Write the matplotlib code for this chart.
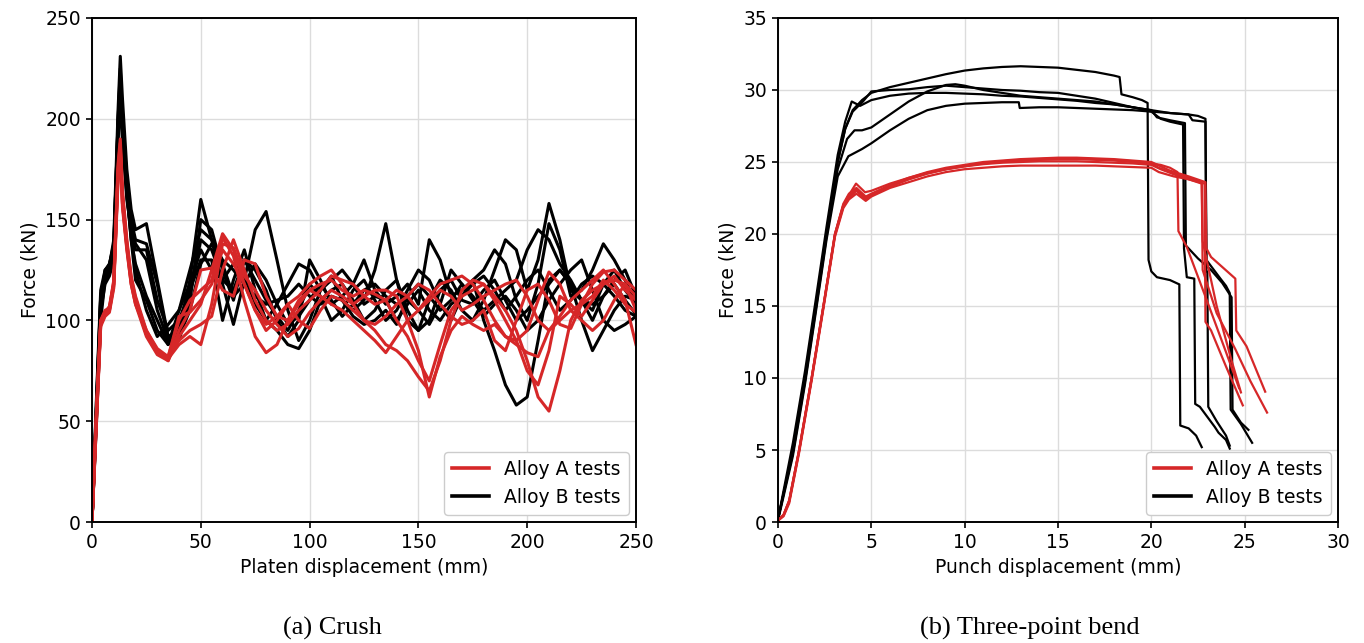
import matplotlib
matplotlib.use("Agg")
import matplotlib.pyplot as plt

# ---------------- Crush data (platen displacement mm, force kN) ----------------
crush_x = [0, 2, 4, 6, 8, 10, 12, 13, 14, 16, 18, 20, 25, 30, 35, 40, 45, 50, 55, 60,
           65, 70, 75, 80, 85, 90, 95, 100, 105, 110, 115, 120, 125, 130, 135, 140,
           145, 150, 155, 160, 165, 170, 175, 180, 185, 190, 195, 200, 205, 210, 215,
           220, 225, 230, 235, 240, 245, 250]

crush_b1 = [0, 60, 115, 125, 127, 140, 205, 231, 210, 175, 155, 145, 148, 120, 92, 95, 120, 160, 140, 118,
            98, 120, 145, 154, 130, 105, 90, 100, 115, 122, 110, 105, 110, 125, 148, 120,
            100, 95, 110, 120, 115, 105, 100, 110, 125, 140, 135, 115, 130, 158, 140,
            115, 110, 105, 118, 125, 115, 108]
crush_b2 = [0, 55, 110, 122, 126, 135, 200, 225, 200, 170, 150, 140, 138, 118, 90, 90, 110, 150, 145, 125,
            110, 130, 125, 115, 100, 92, 100, 130, 120, 108, 112, 118, 130, 115, 108, 112,
            118, 108, 140, 130, 112, 115, 120, 125, 135, 128, 110, 100, 118, 148, 135,
            112, 115, 125, 138, 130, 120, 108]
crush_b3 = [0, 58, 112, 120, 124, 132, 195, 215, 195, 165, 140, 128, 112, 100, 88, 95, 112, 140, 135, 120,
            115, 130, 120, 110, 102, 95, 105, 118, 112, 100, 105, 115, 120, 110, 100, 105,
            115, 125, 120, 108, 100, 112, 120, 100, 85, 68, 58, 62, 90, 120, 125,
            118, 110, 100, 112, 118, 110, 103]
crush_b4 = [0, 50, 105, 118, 122, 130, 190, 210, 190, 160, 145, 135, 135, 110, 95, 100, 115, 130, 130, 100,
            120, 135, 115, 100, 95, 88, 86, 95, 110, 115, 118, 110, 100, 105, 115, 120,
            105, 95, 100, 115, 120, 110, 108, 115, 120, 110, 100, 105, 112, 118, 125,
            118, 100, 85, 95, 105, 112, 110]
crush_b5 = [0, 52, 108, 125, 128, 138, 198, 220, 195, 165, 140, 120, 110, 95, 88, 105, 125, 145, 140, 130,
            125, 118, 112, 108, 110, 112, 118, 112, 108, 112, 110, 102, 98, 100, 105, 98,
            112, 118, 112, 105, 110, 118, 112, 105, 110, 115, 120, 135, 145, 140, 128,
            120, 110, 108, 112, 120, 125, 112]
crush_b6 = [0, 48, 100, 120, 125, 133, 192, 212, 190, 162, 142, 125, 105, 92, 98, 105, 118, 135, 125, 120,
            128, 122, 108, 100, 108, 118, 128, 125, 115, 120, 125, 118, 108, 112, 110, 100,
            108, 115, 105, 100, 108, 112, 118, 122, 115, 105, 112, 120, 125, 115, 105,
            110, 118, 122, 118, 112, 105, 102]
crush_b7 = [0, 55, 112, 124, 128, 136, 200, 222, 198, 168, 148, 138, 130, 105, 90, 92, 105, 128, 138, 128,
            112, 118, 128, 120, 108, 98, 102, 110, 118, 110, 102, 108, 115, 118, 112, 108,
            110, 105, 98, 108, 125, 118, 110, 102, 108, 112, 105, 95, 100, 110, 118,
            125, 130, 115, 100, 95, 98, 102]

crush_a1 = [0, 55, 100, 104, 106, 120, 178, 190, 165, 140, 122, 112, 95, 85, 80, 92, 100, 108, 125, 143,
            135, 118, 105, 95, 100, 108, 112, 118, 122, 125, 118, 108, 100, 95, 88, 85,
            80, 72, 65, 80, 100, 115, 120, 118, 110, 100, 90, 75, 68, 85, 112,
            108, 102, 110, 118, 122, 115, 110]
crush_a2 = [0, 50, 98, 103, 105, 118, 175, 186, 160, 138, 120, 110, 93, 84, 82, 100, 110, 115, 120, 141,
            132, 110, 92, 84, 88, 100, 110, 115, 118, 120, 115, 112, 115, 113, 110, 100,
            92, 80, 70, 88, 105, 112, 115, 118, 112, 105, 95, 80, 62, 55, 75,
            100, 110, 115, 118, 120, 118, 105]
crush_a3 = [0, 52, 99, 104, 107, 119, 172, 184, 158, 136, 118, 108, 92, 83, 80, 95, 105, 125, 126, 115,
            112, 130, 128, 112, 102, 100, 108, 115, 112, 108, 105, 100, 95, 90, 84, 92,
            100, 105, 112, 118, 120, 122, 118, 110, 100, 92, 90, 95, 110, 124, 118,
            105, 100, 95, 100, 110, 118, 112]
crush_a4 = [0, 48, 97, 102, 104, 116, 170, 182, 156, 135, 118, 108, 95, 86, 82, 90, 95, 98, 102, 125,
            140, 125, 110, 100, 95, 98, 105, 110, 115, 122, 120, 118, 112, 108, 110, 115,
            112, 105, 110, 115, 112, 105, 108, 112, 115, 118, 120, 112, 100, 95, 102,
            110, 115, 120, 125, 118, 110, 88]
crush_a5 = [0, 53, 100, 105, 106, 118, 176, 188, 162, 139, 121, 111, 94, 84, 81, 88, 92, 88, 108, 138,
            136, 122, 115, 105, 98, 92, 96, 104, 110, 115, 112, 108, 112, 115, 115, 112,
            100, 85, 62, 82, 95, 102, 98, 95, 98, 92, 88, 84, 82, 95, 100,
            105, 108, 112, 120, 115, 108, 104]
crush_a6 = [0, 50, 98, 103, 105, 117, 174, 185, 158, 137, 119, 109, 93, 84, 82, 102, 104, 110, 118, 135,
            128, 118, 105, 98, 102, 108, 100, 96, 105, 112, 110, 105, 100, 98, 102, 108,
            112, 118, 115, 108, 102, 98, 100, 105, 90, 85, 100, 115, 118, 110, 98,
            96, 108, 118, 124, 125, 120, 115]

crush_black = [crush_b1, crush_b2, crush_b3, crush_b4, crush_b5, crush_b6, crush_b7]
crush_red = [crush_a1, crush_a2, crush_a3, crush_a4, crush_a5, crush_a6]

# ---------------- Three-point bend data (punch displacement mm, force kN) ----------------
bend_b1_x = [0, 0.8, 1.45, 2.03, 2.6, 3.2, 3.6, 4.0, 4.5, 5, 6, 7, 8, 9, 10, 11, 12, 13, 14, 15,
             16, 17, 18, 18.3, 18.4, 19, 19.5, 19.8, 19.85, 20.0, 20.3, 21.0, 21.5, 21.55, 22.0, 22.4, 22.7]
bend_b1_y = [0.2, 5, 10, 15, 20, 25, 27.3, 28.6, 29.3, 29.8, 30.2, 30.5, 30.8, 31.1, 31.35, 31.5, 31.6, 31.65, 31.6, 31.55,
             31.4, 31.25, 31.0, 30.9, 29.7, 29.5, 29.3, 29.1, 18.2, 17.4, 17.0, 16.8, 16.5, 6.7, 6.5, 6.0, 5.2]

bend_b2_x = [0, 0.8, 1.45, 2.03, 2.6, 3.2, 3.6, 4.0, 4.55, 5, 6, 7, 8, 9, 10, 11, 12, 13, 14, 15,
             16, 17, 18, 19, 20, 21, 22, 22.2, 22.9, 22.95, 23.7, 24.0, 24.2, 24.25, 24.8, 25.4]
bend_b2_y = [0.2, 5, 10, 15, 20, 25, 27.3, 28.5, 29.2, 29.9, 30.0, 30.05, 30.2, 30.3, 30.2, 30.1, 30.0, 29.95, 29.85, 29.8,
             29.6, 29.4, 29.1, 28.8, 28.6, 28.4, 28.3, 27.9, 27.8, 18.2, 16.9, 16.4, 15.9, 7.8, 6.8, 5.5]

bend_b3_x = [0, 0.8, 1.45, 2.03, 2.6, 3.2, 3.6, 3.95, 4.4, 5, 6, 7, 8, 9, 10, 11, 12, 13, 14, 15,
             16, 17, 18, 19, 20, 20.5, 21, 21.7, 21.75, 21.9, 22.3, 22.35, 22.6, 23.0, 23.4, 23.6, 24.0, 24.2]
bend_b3_y = [0.2, 5.5, 10.5, 15.5, 20.5, 25.5, 27.8, 29.2, 28.9, 29.3, 29.6, 29.75, 29.8, 29.8, 29.75, 29.7, 29.6, 29.55, 29.45, 29.35,
             29.25, 29.1, 29.0, 28.8, 28.5, 28.0, 27.8, 27.6, 19.0, 17.0, 16.9, 8.2, 8.0, 7.3, 6.6, 6.2, 5.7, 5.1]

bend_b4_x = [0, 0.8, 1.45, 2.03, 2.6, 3.2, 3.7, 4.1, 4.5, 5, 6, 7, 8, 9, 9.5, 10, 11, 12, 13, 14, 15,
             16, 17, 18, 19, 20, 20.3, 21, 21.8, 21.85, 22.5, 23.2, 23.8, 24.3, 24.35, 24.8, 25.2]
bend_b4_y = [0.2, 4.8, 9.8, 14.8, 19.8, 24.5, 26.6, 27.2, 27.2, 27.4, 28.3, 29.2, 29.9, 30.35, 30.4, 30.3, 30.0, 29.8, 29.6, 29.5, 29.4,
             29.3, 29.2, 29.0, 28.8, 28.6, 28.1, 27.9, 27.7, 19.2, 18.3, 17.5, 16.6, 15.6, 7.8, 6.9, 6.4]

bend_b5_x = [0, 0.8, 1.45, 2.03, 2.6, 3.2, 3.77, 4.5, 5, 6, 7, 8, 9, 10, 11, 12, 12.9, 12.95, 14, 15,
             16, 17, 18, 19, 20, 21, 22, 22.5, 22.9, 22.95, 23.0, 23.05, 23.5, 24.0, 24.2]
bend_b5_y = [0.1, 4.6, 9.6, 14.6, 19.6, 24.0, 25.4, 25.9, 26.3, 27.2, 28.0, 28.6, 28.9, 29.05, 29.1, 29.15, 29.15, 28.75, 28.8, 28.8,
             28.75, 28.7, 28.65, 28.6, 28.5, 28.4, 28.3, 28.2, 28.0, 17.5, 17.3, 8.0, 7.0, 6.0, 5.3]

bend_a1_x = [0, 0.3, 0.6, 1.13, 1.8, 2.43, 3.05, 3.5, 3.75, 4.18, 4.66, 5, 6, 7, 8, 9, 10, 11, 12, 13,
             14, 15, 16, 17, 18, 19, 20, 20.5, 21, 21.4, 21.45, 21.9, 23.0, 24.0, 24.7]
bend_a1_y = [0.1, 0.5, 1.5, 5, 10, 15, 20, 22.0, 22.6, 23.5, 22.9, 23.0, 23.5, 23.9, 24.25, 24.5, 24.75, 24.9, 25.05, 25.15,
             25.2, 25.25, 25.25, 25.2, 25.15, 25.05, 24.9, 24.8, 24.6, 24.3, 20.2, 19.1, 15.3, 11.8, 9.3]

bend_a2_x = [0, 0.3, 0.6, 1.13, 1.8, 2.43, 3.05, 3.5, 3.8, 4.2, 4.7, 5, 6, 7, 8, 9, 10, 11, 12, 13,
             14, 15, 16, 17, 18, 19, 20, 20.4, 21.2, 22.0, 22.85, 22.9, 23.2, 24.0, 24.9]
bend_a2_y = [0.1, 0.4, 1.3, 4.8, 9.8, 14.8, 19.8, 21.8, 22.4, 22.8, 22.3, 22.6, 23.2, 23.6, 24.0, 24.3, 24.5, 24.6, 24.7, 24.75,
             24.75, 24.75, 24.75, 24.75, 24.7, 24.65, 24.6, 24.3, 24.0, 23.8, 23.5, 13.9, 13.3, 10.8, 8.1]

bend_a3_x = [0, 0.3, 0.6, 1.13, 1.8, 2.43, 3.05, 3.5, 3.8, 4.2, 4.7, 5, 6, 7, 8, 9, 10, 11, 12, 13,
             14, 15, 16, 17, 18, 19, 20, 20.5, 21, 22.0, 22.9, 22.95, 23.2, 24.5, 24.55, 25.1, 26.1]
bend_a3_y = [0.1, 0.5, 1.5, 5, 10, 15, 20, 22.1, 22.8, 23.2, 22.6, 22.8, 23.4, 23.9, 24.3, 24.6, 24.8, 25.0, 25.1, 25.2,
             25.25, 25.3, 25.3, 25.25, 25.2, 25.1, 25.0, 24.7, 24.4, 24.0, 23.6, 19.0, 18.4, 16.9, 13.3, 12.2, 9.05]

bend_a4_x = [0, 0.3, 0.6, 1.13, 1.8, 2.43, 3.05, 3.5, 3.8, 4.2, 4.7, 5, 6, 7, 8, 9, 10, 11, 12, 13,
             14, 15, 16, 17, 18, 19, 20, 20.4, 21.2, 22.0, 22.7, 22.75, 23.5, 24.5, 25.3, 26.2]
bend_a4_y = [0.1, 0.45, 1.4, 4.9, 9.9, 14.9, 19.9, 21.9, 22.5, 23.0, 22.4, 22.7, 23.3, 23.8, 24.2, 24.5, 24.7, 24.9, 25.0, 25.1,
             25.15, 25.2, 25.2, 25.15, 25.1, 25.0, 24.9, 24.6, 24.2, 23.9, 23.6, 17.5, 14.5, 12.0, 9.8, 7.6]

bend_a5_x = [0, 0.3, 0.6, 1.13, 1.8, 2.43, 3.05, 3.5, 3.8, 4.2, 4.7, 5, 6, 7, 8, 9, 10, 11, 12, 13,
             14, 15, 16, 17, 18, 19, 20, 20.5, 21.3, 22.0, 22.7, 22.75, 23.5, 24.3, 24.8]
bend_a5_y = [0.1, 0.5, 1.45, 4.95, 9.95, 14.95, 19.95, 22.0, 22.6, 23.1, 22.5, 22.7, 23.3, 23.8, 24.2, 24.5, 24.7, 24.85, 24.95, 25.0,
             25.05, 25.05, 25.05, 25.0, 24.95, 24.9, 24.8, 24.5, 24.1, 23.8, 23.5, 19.5, 15.0, 11.2, 9.0]

bend_black = [(bend_b1_x, bend_b1_y), (bend_b2_x, bend_b2_y), (bend_b3_x, bend_b3_y),
              (bend_b4_x, bend_b4_y), (bend_b5_x, bend_b5_y)]
bend_red = [(bend_a1_x, bend_a1_y), (bend_a2_x, bend_a2_y), (bend_a3_x, bend_a3_y),
            (bend_a4_x, bend_a4_y), (bend_a5_x, bend_a5_y)]

labels = ["Alloy A tests", "Alloy B tests"]
captions = ["(a) Crush", "(b) Three-point bend"]

RED = "#d62728"
BLACK = "#000000"
FS = 13.5

plt.rcParams["font.family"] = ["DejaVu Sans"]
fig = plt.figure(figsize=(13.64, 6.43), dpi=100)
W, H = 1364, 643
ax1 = fig.add_axes([92 / W, (643 - 522) / H, (636 - 92) / W, (522 - 18) / H])
ax2 = fig.add_axes([778 / W, (643 - 522) / H, (1338 - 778) / W, (522 - 18) / H])

for ys in crush_black:
    ax1.plot(crush_x, ys, color=BLACK, lw=2.2, solid_joinstyle="round")
for ys in crush_red:
    ax1.plot(crush_x, ys, color=RED, lw=2.2, solid_joinstyle="round")

for xs, ys in bend_black:
    ax2.plot(xs, ys, color=BLACK, lw=1.6, solid_joinstyle="round")
for xs, ys in bend_red:
    ax2.plot(xs, ys, color=RED, lw=1.6, solid_joinstyle="round")

ax1.set_xlim(0, 250)
ax1.set_ylim(0, 250)
ax1.set_xticks(range(0, 251, 50))
ax1.set_yticks(range(0, 251, 50))
ax1.set_xlabel("Platen displacement (mm)", fontsize=FS)
ax1.set_ylabel("Force (kN)", fontsize=FS)

ax2.set_xlim(0, 30)
ax2.set_ylim(0, 35)
ax2.set_xticks(range(0, 31, 5))
ax2.set_yticks(range(0, 36, 5))
ax2.set_xlabel("Punch displacement (mm)", fontsize=FS)
ax2.set_ylabel("Force (kN)", fontsize=FS)

for ax in (ax1, ax2):
    ax.grid(True, color="#dcdcdc", lw=1.0)
    ax.set_axisbelow(True)
    ax.tick_params(labelsize=FS, length=4.5, width=1.2, direction="out")
    for sp in ax.spines.values():
        sp.set_linewidth(1.4)
    handles = [plt.Line2D([], [], color=RED, lw=2.6), plt.Line2D([], [], color=BLACK, lw=2.6)]
    ax.legend(handles, labels, loc="lower right", fontsize=FS, framealpha=1,
              edgecolor="#cccccc", borderaxespad=0.4, fancybox=True)

fig.text(332 / W, 1 - 628 / H, captions[0], ha="center", va="center",
         family=["Liberation Serif"], fontsize=19)
fig.text(1030 / W, 1 - 628 / H, captions[1], ha="center", va="center",
         family=["Liberation Serif"], fontsize=19)

fig.savefig("out.png", dpi=100)
